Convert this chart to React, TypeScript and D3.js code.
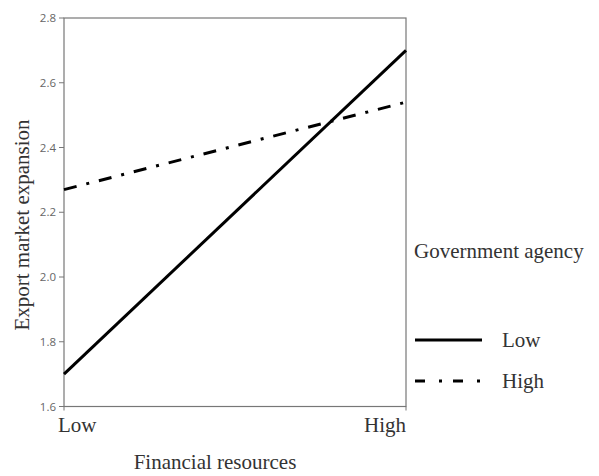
import React from "react";
import * as d3 from "d3";

const xCategories = ["Low", "High"];
const yTicks = [1.6, 1.8, 2.0, 2.2, 2.4, 2.6, 2.8];
const seriesNames = ["Low", "High"];
const lowValues = [1.7, 2.7];
const highValues = [2.27, 2.54];

export default function App() {
  const W = 599, H = 476;
  const left = 64, right = 406, top = 18, bottom = 406.5;
  const x = d3.scalePoint<string>().domain(xCategories).range([left, right]);
  const y = d3.scaleLinear().domain([1.6, 2.8]).range([bottom, top]);
  const line = d3.line<[string, number]>().x(d => x(d[0])!).y(d => y(d[1]));
  const series = [
    { name: seriesNames[0], values: lowValues, dash: undefined as string | undefined },
    { name: seriesNames[1], values: highValues, dash: "13,10,3,10" },
  ];
  const serif = "'Liberation Serif', 'Times New Roman', serif";
  const sans = "'Open Sans', 'DejaVu Sans', sans-serif";
  const fs = 21;
  return (
    <svg width={W} height={H} style={{ position: "absolute", left: 0, top: 0, background: "#fff" }}>
      <rect x={left} y={top} width={right - left} height={bottom - top} fill="none" stroke="#777" strokeWidth={1.2} />
      {yTicks.map(t => (
        <g key={t}>
          <line x1={left - 5} x2={left} y1={y(t)} y2={y(t)} stroke="#777" />
          <text x={left - 8} y={y(t)} dy="0.35em" textAnchor="end" fontFamily={sans} fontSize={11.5} fill="#666">{t.toFixed(1)}</text>
        </g>
      ))}
      {xCategories.map((c, i) => (
        <g key={c}>
          <line x1={x(c)!} x2={x(c)!} y1={bottom} y2={bottom + 4} stroke="#777" />
          <text x={x(c)!} y={432} textAnchor={i === 0 ? "start" : "end"} dx={i === 0 ? -6 : 0} fontFamily={serif} fontSize={fs} fill="#333">{c}</text>
        </g>
      ))}
      {series.map(s => (
        <path key={s.name} d={line(xCategories.map((c, i) => [c, s.values[i]] as [string, number]))!} fill="none" stroke="#000" strokeWidth={3} strokeDasharray={s.dash} />
      ))}
      <text x={215} y={469} textAnchor="middle" fontFamily={serif} fontSize={fs} fill="#333">Financial resources</text>
      <text transform={`translate(29,225) rotate(-90)`} textAnchor="middle" fontFamily={serif} fontSize={fs} fill="#333">Export market expansion</text>
      <text x={414} y={258} fontFamily={serif} fontSize={fs} fill="#333">Government agency</text>
      {series.map((s, i) => (
        <g key={s.name}>
          <line x1={415} x2={482} y1={340 + i * 41} y2={340 + i * 41} stroke="#000" strokeWidth={3} strokeDasharray={s.name === "High" ? "10,14,3,11" : undefined} />
          <text x={502} y={347 + i * 41} fontFamily={serif} fontSize={fs} fill="#333">{s.name}</text>
        </g>
      ))}
    </svg>
  );
}
